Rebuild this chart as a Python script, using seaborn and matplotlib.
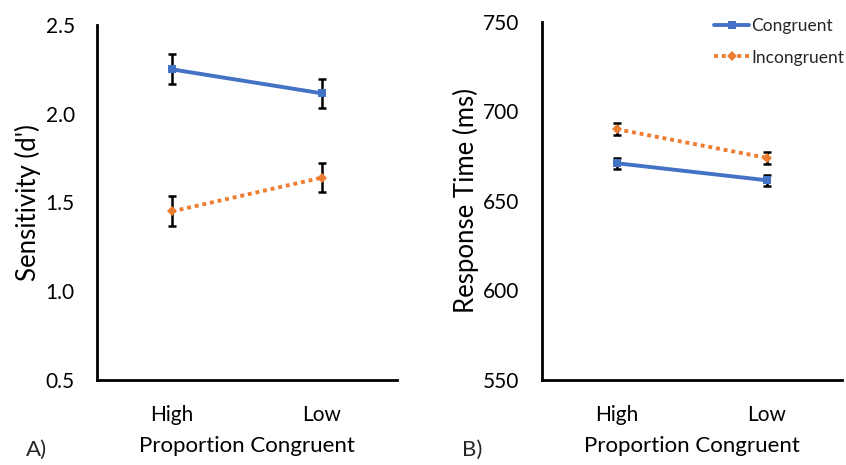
import matplotlib
matplotlib.use("Agg")
import matplotlib.pyplot as plt
import seaborn as sns
import pandas as pd

# ---- data ----
categories = ["High", "Low"]
conditions = ["Congruent", "Incongruent"]
dprime_congruent = [2.25, 2.115]
dprime_incongruent = [1.45, 1.64]
dprime_err_congruent = [0.085, 0.083]
dprime_err_incongruent = [0.085, 0.083]
rt_congruent = [671.0, 661.5]
rt_incongruent = [690.0, 674.0]
rt_err_congruent = [3.0, 3.0]
rt_err_incongruent = [3.5, 3.5]
dprime_ticks = [0.5, 1.0, 1.5, 2.0, 2.5]
rt_ticks = [550, 600, 650, 700, 750]

sns.set_style("white")
plt.rcParams["font.family"] = ["Lato", "DejaVu Sans"]

blue = "#4472C4"
orange = "#ED7D31"
palette = {"Congruent": blue, "Incongruent": orange}


def make_df(cong, incong):
    rows = []
    for c, v in zip(categories, cong):
        rows.append({"PC": c, "val": v, "Condition": "Congruent"})
    for c, v in zip(categories, incong):
        rows.append({"PC": c, "val": v, "Condition": "Incongruent"})
    return pd.DataFrame(rows)


fig = plt.figure(figsize=(8.46, 4.65), dpi=100)
axA = fig.add_axes([97 / 846, 85 / 465, 300 / 846, 355 / 465])
axB = fig.add_axes([541.7 / 846, 85 / 465, 300 / 846, 358.3 / 465])

panels = [
    (axA, make_df(dprime_congruent, dprime_incongruent),
     [dprime_err_congruent, dprime_err_incongruent], (0.5, 2.5), dprime_ticks,
     "Sensitivity (d')", "%.1f"),
    (axB, make_df(rt_congruent, rt_incongruent),
     [rt_err_congruent, rt_err_incongruent], (550, 750), rt_ticks,
     "Response Time (ms)", "%d"),
]

for ax, df, errs, ylim, ticks, ylab, fmt in panels:
    # error bars first (behind lines)
    for cond, err in zip(conditions, errs):
        sub = df[df["Condition"] == cond]
        ax.errorbar(list(sub["PC"]), list(sub["val"]), yerr=err, fmt="none",
                    ecolor="black", elinewidth=1.8, capsize=3.2, capthick=1.8,
                    zorder=2)
    sns.lineplot(data=df, x="PC", y="val", hue="Condition", style="Condition",
                 palette=palette, markers={"Congruent": "s", "Incongruent": "D"},
                 dashes={"Congruent": "", "Incongruent": (1, 1)},
                 linewidth=2.8, markersize=5.5, markeredgewidth=0,
                 ax=ax, zorder=3, legend=(ax is axB))
    ax.set_xlim(-0.5, 1.5)
    ax.set_ylim(*ylim)
    ax.set_yticks(ticks)
    ax.yaxis.set_major_formatter(matplotlib.ticker.FormatStrFormatter(fmt))
    ax.tick_params(axis="both", length=0, labelsize=15, colors="black")
    ax.tick_params(axis="y", pad=16)
    ax.tick_params(axis="x", pad=18)
    ax.set_ylabel(ylab, fontsize=18.5, color="black", labelpad=3)
    ax.set_xlabel("Proportion Congruent", fontsize=16, color="black", labelpad=8)
    sns.despine(ax=ax)
    for s in ["left", "bottom"]:
        ax.spines[s].set_linewidth(2.0)
        ax.spines[s].set_color("black")

leg = axB.legend(loc="upper right", bbox_to_anchor=(1.03, 1.03), frameon=False,
                 fontsize=12.5, handlelength=2.0, handletextpad=0.1,
                 labelspacing=0.9, borderaxespad=0)

fig.text(26 / 846, 1 - 450 / 465, "A)", fontsize=16, va="center", ha="left")
fig.text(462 / 846, 1 - 450 / 465, "B)", fontsize=16, va="center", ha="left")

fig.savefig("out.png", dpi=100)
